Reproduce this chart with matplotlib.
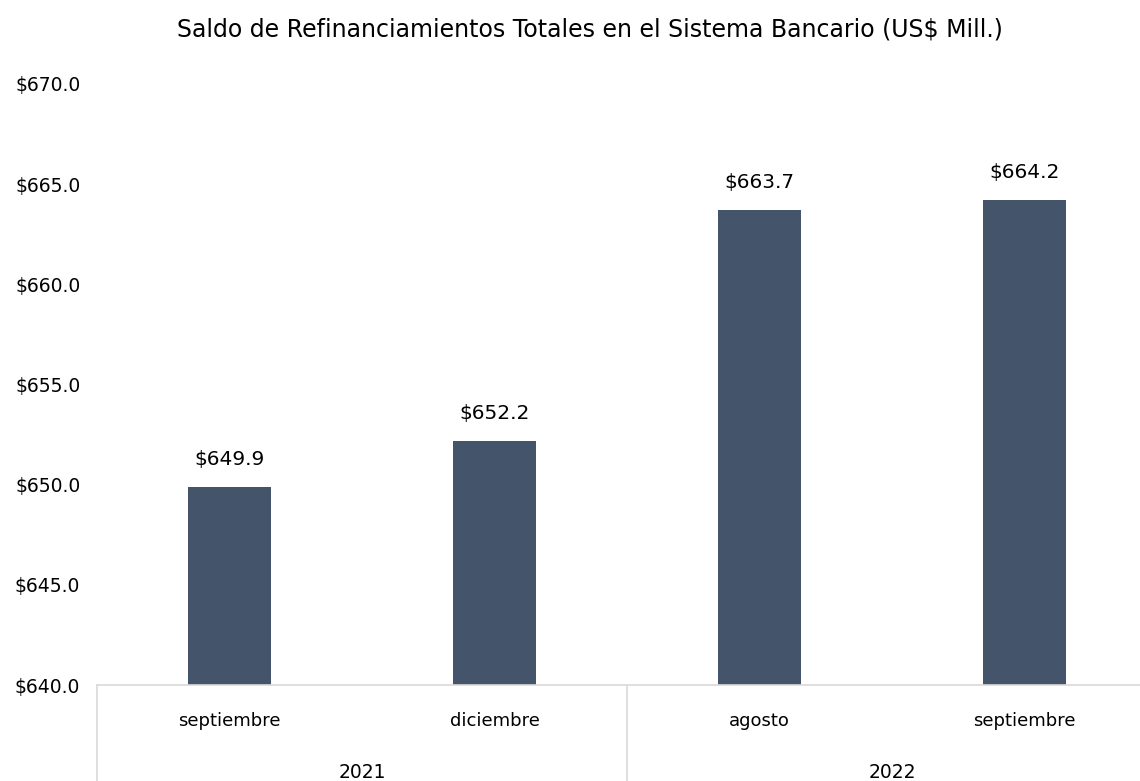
import matplotlib.pyplot as plt
from matplotlib.lines import Line2D

months = ["septiembre", "diciembre", "agosto", "septiembre"]
years = ["2021", "2022"]
months_per_year = [2, 2]
values = [649.9, 652.2, 663.7, 664.2]
y_ticks = [640, 645, 650, 655, 660, 665, 670]

plt.rcParams["font.family"] = ["DejaVu Sans"]

BAR = "#44546A"
GRID = "#d9d9d9"

fig = plt.figure(figsize=(11.4, 7.81), dpi=100)
# right edge spills a little past the canvas, as in the reference
ax = fig.add_axes([97 / 1140, 1 - 685 / 781, 1060 / 1140, (685 - 84) / 781])

x = list(range(len(values)))
ax.bar(x, values, width=0.31, color=BAR, zorder=2)
ax.set_xlim(-0.5, len(values) - 0.5)
ax.set_ylim(y_ticks[0], y_ticks[-1])
ax.set_yticks(y_ticks)
ax.set_yticklabels([f"\\${v:.1f}" for v in y_ticks], fontsize=13.5)
ax.tick_params(axis="y", length=0, pad=12)
ax.set_xticks([])

for s in ["top", "right", "left"]:
    ax.spines[s].set_visible(False)
ax.spines["bottom"].set_color(GRID)
ax.spines["bottom"].set_linewidth(1.2)

for xi, v in zip(x, values):
    ax.text(xi, v + 0.9, f"\\${v:.1f}", ha="center", va="bottom", fontsize=14.5)

# two-level category axis
trans = ax.get_xaxis_transform()
for xi, m in zip(x, months):
    ax.text(xi, -0.06, m, ha="center", va="center", fontsize=13, transform=trans)

start = 0
bounds = [-0.5]
for yr, n in zip(years, months_per_year):
    centre = start + (n - 1) / 2
    ax.text(centre, -0.145, yr, ha="center", va="center", fontsize=13.5,
            transform=trans)
    start += n
    bounds.append(start - 0.5)

for b in bounds:
    ax.add_line(Line2D([b, b], [0, -0.2], transform=trans, color=GRID,
                       lw=1.2, clip_on=False))

fig.suptitle("Saldo de Refinanciamientos Totales en el Sistema Bancario (US\\$ Mill.)",
             x=590 / 1140, y=1 - 30 / 781, va="center", fontsize=17)

fig.savefig("out.png", dpi=100, facecolor="white")
